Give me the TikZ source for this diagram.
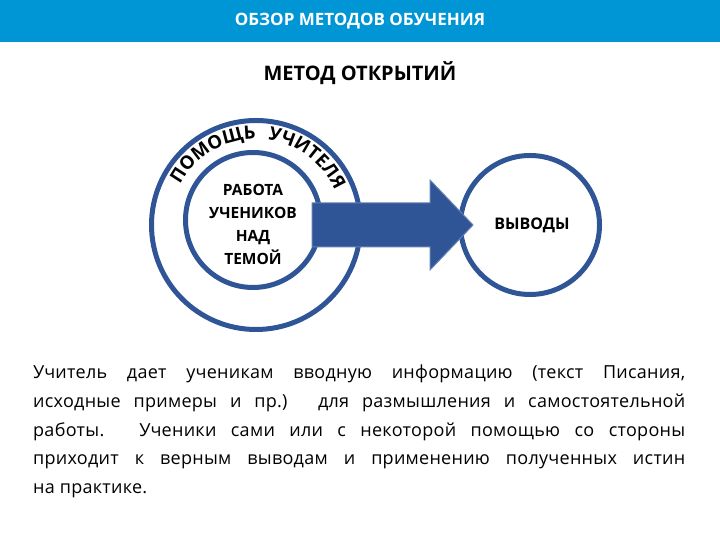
\documentclass[tikz,border=0pt]{standalone}
\usepackage{fontspec}
\setmainfont{Open Sans}
\usetikzlibrary{decorations.text}
\definecolor{banner}{RGB}{0,150,214}
\definecolor{dblue}{RGB}{47,85,151}
\tikzset{ring/.style={draw=dblue,line width=5pt,circle},
 arc text/.style={decorate,decoration={text along path,text={|\bfseries\fontsize{18.5}{19}\selectfont|#1}}}}
\begin{document}
\begin{tikzpicture}[x=1pt,y=1pt]
\useasboundingbox (0,0) rectangle (720,540);
\fill[banner] (0,498) rectangle (720,540);
\node[text=white,font=\bfseries\fontsize{17}{17}\selectfont] (hdr) at (360,519) {ОБЗОР МЕТОДОВ ОБУЧЕНИЯ};
\node[font=\bfseries\fontsize{20}{20}\selectfont] (ttl) at (360,467) {МЕТОД ОТКРЫТИЙ};
\node[ring,minimum size=209pt] (outer) at (256,315) {};
\node[ring,minimum size=135pt] (inner) at (253,320) {};
\node[ring,minimum size=139pt] (res) at (530,315) {};
\coordinate (tail) at (312,315);
\coordinate (tip) at (473,315);
\fill[dblue,draw=dblue!75,line width=1pt] (tail) ++(0,22) -- (430,337) -- (430,360) -- (tip) -- (430,270) -- (430,293) -- ([yshift=-22pt]tail) -- cycle;
\node[align=center,font=\bfseries\fontsize{15.5}{23}\selectfont] (work) at (253,316) {РАБОТА\\УЧЕНИКОВ\\НАД\\ТЕМОЙ};
\node[font=\bfseries\fontsize{16}{16}\selectfont] (concl) at (532,315) {ВЫВОДЫ};
\path[arc text=ПОМОЩЬ] (256,315) ++(152:86) arc[start angle=152,end angle=90,radius=86];
\path[arc text=УЧИТЕЛЯ] (256,315) ++(82:86) arc[start angle=82,end angle=20,radius=86];
\node[anchor=north west,text width=652pt,align=justify,inner sep=0pt,font=\fontsize{18}{28.6}\selectfont\addfontfeature{LetterSpace=1.5}] (par) at (33,175) {Учитель дает ученикам вводную информацию (текст Писания,\linebreak исходные примеры и пр.) для размышления и самостоятельной\linebreak работы. Ученики сами или с некоторой помощью со стороны\linebreak приходит к верным выводам и применению полученных истин\linebreak на практике.};
\end{tikzpicture}
\end{document}
